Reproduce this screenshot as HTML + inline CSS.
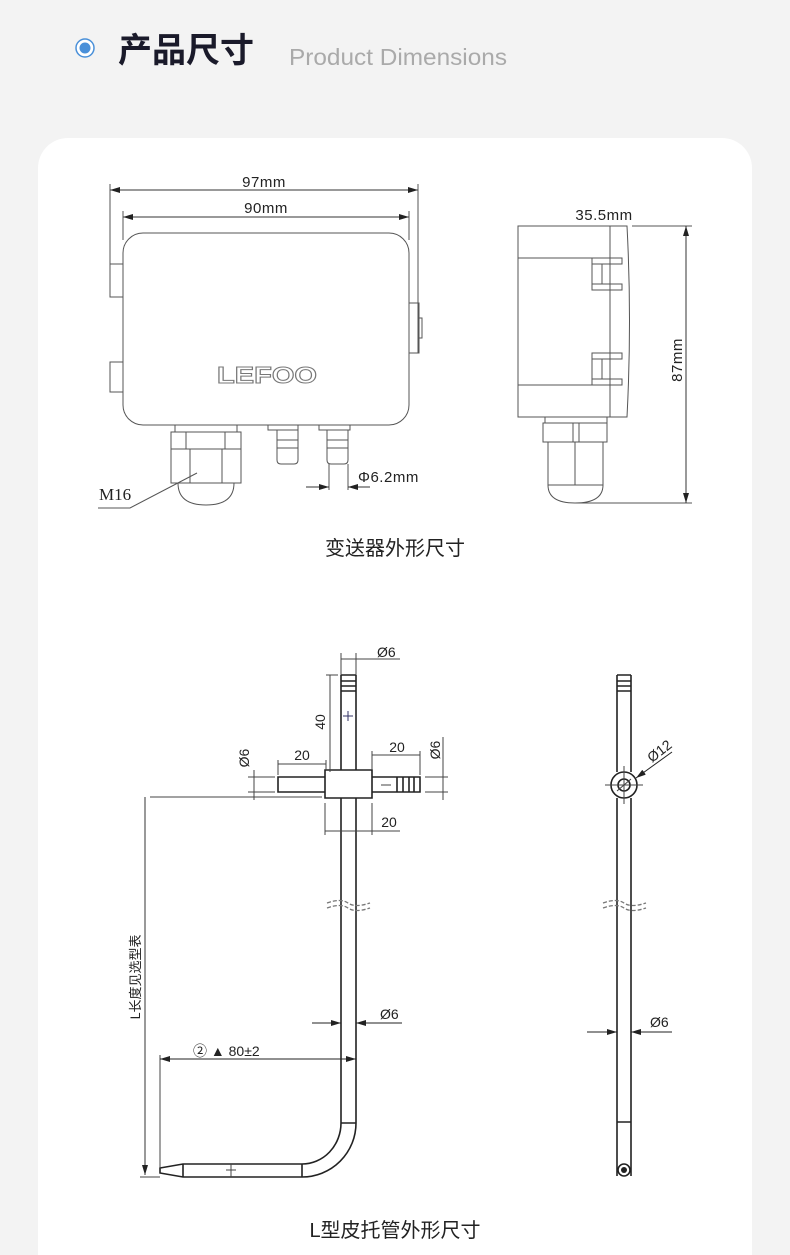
<!DOCTYPE html>
<html><head><meta charset="utf-8"><style>
html,body{margin:0;padding:0;width:790px;height:1255px;overflow:hidden;}
body{background:#f3f3f3;position:relative;font-family:"Liberation Sans","Noto Sans CJK SC",sans-serif;}
.card{position:absolute;left:38px;top:138px;width:714px;height:1150px;background:#fff;border-radius:30px;}
svg{position:absolute;left:0;top:0;}
</style></head><body>
<div class="card"></div>
<svg width="790" height="1255" viewBox="0 0 790 1255" font-family="Liberation Sans, Noto Sans CJK SC, sans-serif">
<defs>
<marker id="a" viewBox="0 0 10 6" refX="10" refY="3" markerWidth="10" markerHeight="6" orient="auto-start-reverse" markerUnits="userSpaceOnUse"><path d="M0,0L10,3L0,6z" fill="#222"/></marker>
</defs>
<!-- header -->
<circle cx="85" cy="48" r="9" fill="#fff" stroke="#4a90d9" stroke-width="1.5"/>
<circle cx="85" cy="48" r="5.5" fill="#4a90d9"/>
<text x="118" y="62" font-size="34" font-weight="bold" fill="#1a1a2a" font-family="Noto Sans CJK SC, sans-serif">产品尺寸</text>
<text x="289" y="65" font-size="23" fill="#aaa" textLength="218" lengthAdjust="spacingAndGlyphs">Product Dimensions</text>

<g fill="none" stroke="#555" stroke-width="1">
<!-- front view -->
<line x1="110" y1="190" x2="418" y2="190" stroke="#333" marker-start="url(#a)" marker-end="url(#a)"/>
<line x1="110" y1="184" x2="110" y2="297"/>
<line x1="418" y1="184" x2="418" y2="353"/>
<line x1="123" y1="217" x2="409" y2="217" stroke="#333" marker-start="url(#a)" marker-end="url(#a)"/>
<line x1="123" y1="211" x2="123" y2="240"/>
<line x1="409" y1="211" x2="409" y2="240"/>
<rect x="123" y="233" width="286" height="192" rx="20"/>
<rect x="110" y="264" width="13" height="33"/>
<rect x="110" y="362" width="13" height="30"/>
<rect x="409" y="303" width="10" height="50"/>
<rect x="419" y="318" width="3" height="20"/>
<rect x="175" y="425" width="62" height="7"/>
<rect x="171" y="432" width="70" height="17"/>
<line x1="186" y1="432" x2="186" y2="449"/><line x1="225" y1="432" x2="225" y2="449"/>
<path d="M171,449 L241,449 L241,483 L171,483 Z M190,449 V483 M222,449 V483"/>
<path d="M178,483 Q178,505 206,505 Q234,505 234,483"/>
<rect x="268" y="425" width="30" height="5"/>
<path d="M277,430 V460 Q277,464 281,464 H294 Q298,464 298,460 V430 M277,440 H298 M277,448 H298"/>
<rect x="319" y="425" width="31" height="5"/>
<path d="M327,430 V460 Q327,464 331,464 H344 Q348,464 348,460 V430 M327,440 H348 M327,448 H348"/>
<line x1="329" y1="464" x2="329" y2="490"/><line x1="348" y1="464" x2="348" y2="490"/>
<line x1="306" y1="487" x2="329" y2="487" stroke="#333" marker-end="url(#a)"/>
<line x1="370" y1="487" x2="348" y2="487" stroke="#333" marker-end="url(#a)"/>
<polyline points="197,473 130,508 98,508"/>
<!-- side view -->
<rect x="518" y="226" width="92" height="191"/>
<line x1="518" y1="258" x2="610" y2="258"/><line x1="518" y1="385" x2="610" y2="385"/>
<path d="M610,226 H627 Q632,320 627,417 H610"/>
<rect x="592" y="258" width="30" height="6"/><rect x="592" y="284" width="30" height="6"/>
<rect x="592" y="264" width="10" height="20"/>
<rect x="592" y="353" width="30" height="6"/><rect x="592" y="379" width="30" height="6"/>
<rect x="592" y="359" width="10" height="20"/>
<rect x="545" y="417" width="62" height="6"/>
<rect x="543" y="423" width="64" height="19"/>
<line x1="573" y1="423" x2="573" y2="442"/><line x1="579" y1="423" x2="579" y2="442"/>
<path d="M548,442 H603 V485 H548 Z M575,442 V485"/>
<path d="M548,485 Q548,503 575,503 Q603,503 603,485"/>
<line x1="632" y1="226" x2="692" y2="226"/>
<line x1="575" y1="503" x2="692" y2="503"/>
<line x1="686" y1="226" x2="686" y2="503" stroke="#333" marker-start="url(#a)" marker-end="url(#a)"/>
</g>
<g font-size="15" fill="#222" letter-spacing="0.5">
<text x="264" y="187" text-anchor="middle">97mm</text>
<text x="266" y="213" text-anchor="middle">90mm</text>
<text x="358" y="482">Φ6.2mm</text>
<text x="604" y="220" text-anchor="middle">35.5mm</text>
<text transform="translate(682,360) rotate(-90)" text-anchor="middle">87mm</text>
</g>
<text x="99" y="500" font-size="17" fill="#222" font-family="Liberation Serif, serif">M16</text>
<text x="217" y="383" font-size="23" font-weight="bold" fill="#fff" stroke="#777" stroke-width="1" textLength="100" lengthAdjust="spacingAndGlyphs">LEFOO</text>
<text x="395" y="555" font-size="20" fill="#222" text-anchor="middle" font-family="Noto Sans CJK SC, sans-serif">变送器外形尺寸</text>

<!-- pitot tube -->
<g fill="none" stroke="#222" stroke-width="1.6">
<path d="M341,675 V770 M356,675 V770 M341,798 V1123 A39,41 0 0 1 302,1164 M356,798 V1123 A54,54 0 0 1 302,1177"/>
<path d="M341,675 H356 M341,681 H356 M341,686 H356 M341,691 H356"/>
<path d="M302,1164 H183 L160,1168 V1173 L183,1177 H302 M183,1164 V1177 M302,1164 V1177 M341,1123 H356"/>
<path d="M325,770 H372 V798 H325 Z"/>
<path d="M325,777 H278 V792 H325 M372,777 H420 V792 H372 M397,777 V792 M403,777 V792 M409,777 V792 M414,777 V792"/>
<!-- side -->
<path d="M617,675 V772 M631,675 V772 M617,798 V1176 M631,798 V1176 M617,675 H631 M617,681 H631 M617,686 H631 M617,691 H631 M617,1122 H631"/>
<circle cx="624" cy="785" r="13"/>
<circle cx="624" cy="785" r="6"/>
<circle cx="624" cy="1170" r="6"/>
</g>
<circle cx="624" cy="1170" r="3" fill="#222"/>
<g fill="none" stroke="#444" stroke-width="1">
<path d="M605,785 H643 M624,766 V804 M617,791 L631,779"/>
<line x1="672" y1="752" x2="636" y2="778" stroke="#222" marker-end="url(#a)"/>
<!-- dims -->
<line x1="341" y1="653" x2="341" y2="675"/><line x1="356" y1="653" x2="356" y2="675"/>
<line x1="341" y1="659" x2="400" y2="659"/>
<line x1="330" y1="675" x2="330" y2="772"/>
<line x1="326" y1="675" x2="338" y2="675"/>
<line x1="248" y1="777" x2="275" y2="777"/><line x1="248" y1="792" x2="275" y2="792"/>
<line x1="254" y1="770" x2="254" y2="800"/>
<line x1="278" y1="764" x2="326" y2="764"/><line x1="278" y1="760" x2="278" y2="775"/><line x1="326" y1="760" x2="326" y2="770"/>
<line x1="372" y1="755" x2="420" y2="755"/><line x1="372" y1="751" x2="372" y2="770"/><line x1="420" y1="751" x2="420" y2="775"/>
<line x1="425" y1="777" x2="448" y2="777"/><line x1="425" y1="792" x2="448" y2="792"/>
<line x1="443" y1="737" x2="443" y2="800"/>
<line x1="150" y1="797" x2="322" y2="797"/>
<line x1="325" y1="803" x2="325" y2="835"/><line x1="372" y1="803" x2="372" y2="835"/>
<line x1="325" y1="831" x2="400" y2="831"/>
<line x1="145" y1="797" x2="145" y2="1175" stroke="#333" marker-end="url(#a)"/>
<line x1="140" y1="1177" x2="160" y2="1177"/>
<line x1="160" y1="1055" x2="160" y2="1168"/>
<line x1="160" y1="1059" x2="356" y2="1059" stroke="#222" marker-start="url(#a)" marker-end="url(#a)"/>
<line x1="312" y1="1023" x2="341" y2="1023" stroke="#222" marker-end="url(#a)"/>
<line x1="402" y1="1023" x2="356" y2="1023" stroke="#222" marker-end="url(#a)"/>
<line x1="587" y1="1032" x2="617" y2="1032" stroke="#222" marker-end="url(#a)"/>
<line x1="672" y1="1032" x2="631" y2="1032" stroke="#222" marker-end="url(#a)"/>
<line x1="231" y1="1164" x2="231" y2="1177"/><line x1="226" y1="1170" x2="236" y2="1170"/>
<line x1="343" y1="716" x2="353" y2="716" stroke="#336"/><line x1="348" y1="711" x2="348" y2="721" stroke="#336"/>
<line x1="381" y1="785" x2="391" y2="785"/>
</g>
<!-- break marks -->
<g fill="none" stroke="#777" stroke-width="1.3" stroke-dasharray="4,2">
<path d="M327,903 Q341,898 348,903 T370,903 M327,908 Q341,903 348,908 T370,908"/>
<path d="M603,903 Q617,898 624,903 T646,903 M603,908 Q617,903 624,908 T646,908"/>
</g>
<g font-size="14" fill="#222">
<text x="377" y="657">Ø6</text>
<text transform="translate(325,722) rotate(-90)" text-anchor="middle">40</text>
<text transform="translate(249,758) rotate(-90)" text-anchor="middle">Ø6</text>
<text x="302" y="760" text-anchor="middle">20</text>
<text x="397" y="752" text-anchor="middle">20</text>
<text transform="translate(440,750) rotate(-90)" text-anchor="middle">Ø6</text>
<text x="389" y="827" text-anchor="middle">20</text>
<text x="380" y="1019">Ø6</text>
<text x="650" y="1027">Ø6</text>
<text transform="translate(652,763) rotate(-38)">Ø12</text>
<text x="193" y="1056">② ▲ 80±2</text>
<text transform="translate(140,977) rotate(-90)" text-anchor="middle" font-size="13" font-family="Noto Sans CJK SC, sans-serif">L长度见选型表</text>
</g>
<text x="395" y="1237" font-size="20" fill="#222" text-anchor="middle" font-family="Liberation Sans, Noto Sans CJK SC, sans-serif">L型皮托管外形尺寸</text>
</svg>
</body></html>
